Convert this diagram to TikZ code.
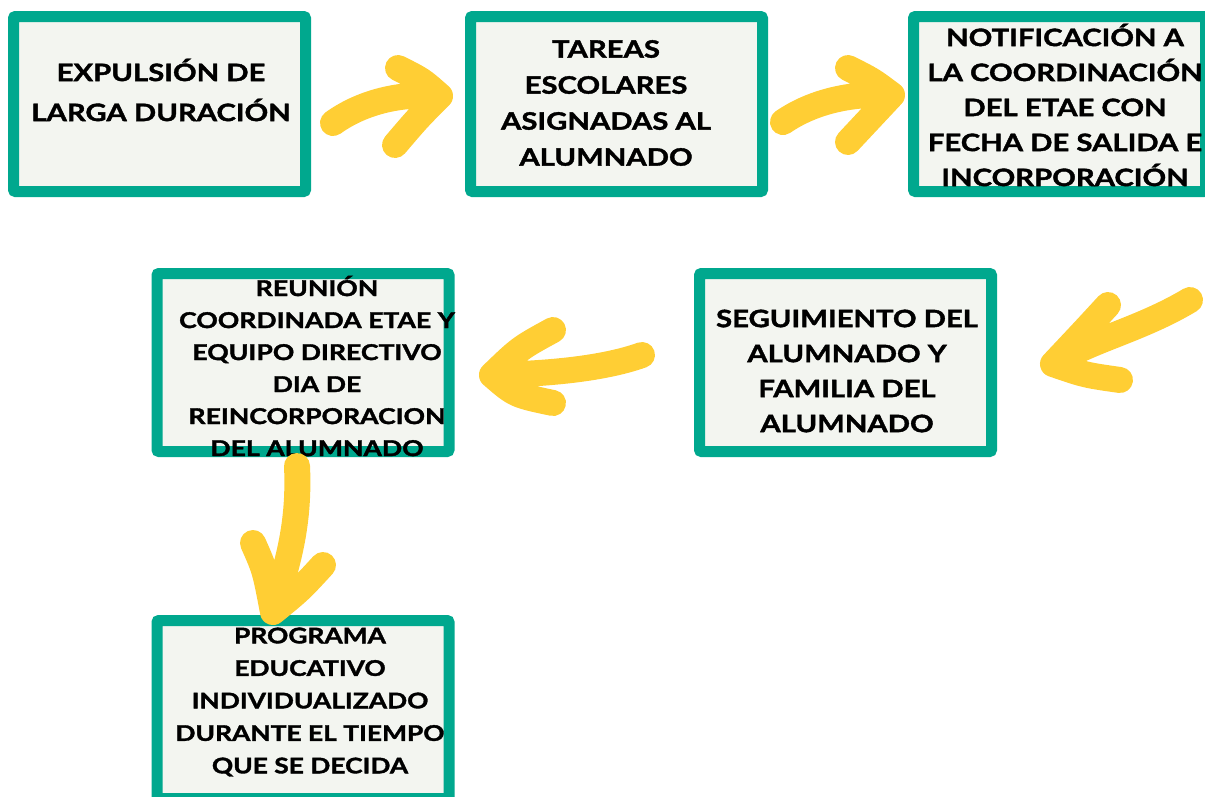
\documentclass[tikz,border=0pt]{standalone}
\usepackage{fontspec}
\setmainfont{Lato}[BoldFeatures={FakeStretch=1.22, FakeBold=1.6}]
\definecolor{verde}{RGB}{0,168,142}
\definecolor{fondo}{RGB}{243,245,240}
\definecolor{amarillo}{RGB}{255,206,52}
\begin{document}
\begin{tikzpicture}[x=1pt, y=-1pt,
  caja/.style={draw=verde, fill=fondo, line width=11pt, rounded corners=2pt,
    minimum width=292pt, minimum height=#1, inner sep=0pt},
  caja/.default=175pt,
  txt/.style 2 args={align=center, inner sep=0pt, font=\fontsize{#1}{#2}\selectfont\bfseries},
  flecha/.style={draw=amarillo, line width=26pt, line cap=round, line join=round}]

 \useasboundingbox (0,0) rectangle (1205,796);

 %draw boxes
    \foreach \x/\y/\h/\name in { 159.5/104/175pt/expulsion, 616.5/104/175pt/tareas, 1059.5/104/175pt/notificacion,
                                 303/362.5/178pt/reunion, 845.5/362.5/178pt/seguimiento, 303/709.5/178pt/programa }{
         \node[caja=\h] (\name) at (\x,\y) {};
    }

 %texts
 \node[txt={24}{40}] (expulsion-t) at (161,90) {EXPULSIÓN DE\\LARGA DURACIÓN};
 \node[txt={24}{36}] (tareas-t) at (606,103) {TAREAS\\ESCOLARES\\ASIGNADAS AL\\ALUMNADO};
 \node[txt={24}{35}] (notificacion-t) at (1065,105) {NOTIFICACIÓN A\\LA COORDINACIÓN\\DEL ETAE CON\\FECHA DE SALIDA E\\INCORPORACIÓN};
 \node[txt={21.8}{32}] (reunion-t) at (317,366) {REUNIÓN\\COORDINADA ETAE Y\\EQUIPO DIRECTIVO\\DIA DE\\REINCORPORACION\\DEL ALUMNADO};
 \node[txt={24}{35}] (seguimiento-t) at (847,371) {SEGUIMIENTO DEL\\ALUMNADO Y\\FAMILIA DEL\\ALUMNADO};
 \node[txt={21.6}{32.5}] (programa-t) at (310,702) {PROGRAMA\\EDUCATIVO\\INDIVIDUALIZADO\\DURANTE EL TIEMPO\\QUE SE DECIDA};

 %arrows
 \coordinate (a1s) at (333,123);  \coordinate (a1t) at (440,96);
 \coordinate (a1a) at (398,68);   \coordinate (a1b) at (395,145);
 \draw[flecha] (a1s) .. controls (365,100) and (405,93) .. (a1t)
               (a1a) .. controls (422,80) .. (a1t) .. controls (418,118) .. (a1b);

 \coordinate (a2s) at (783,122);  \coordinate (a2t) at (892,95);
 \coordinate (a2a) at (848,68);   \coordinate (a2b) at (848,142);
 \draw[flecha] (a2s) .. controls (815,100) and (855,93) .. (a2t)
               (a2a) .. controls (872,80) .. (a2t) .. controls (870,118) .. (a2b);

 \coordinate (a3s) at (1190,300); \coordinate (a3t) at (1053,364);
 \coordinate (a3a) at (1108,305); \coordinate (a3b) at (1120,380);
 \draw[flecha] (a3s) .. controls (1140,330) and (1090,340) .. (a3t)
               (a3a) .. controls (1085,330) .. (a3t) .. controls (1085,375) .. (a3b);

 \coordinate (a4s) at (642,355);  \coordinate (a4t) at (492,375);
 \coordinate (a4a) at (553,330);  \coordinate (a4b) at (553,403);
 \draw[flecha] (a4s) .. controls (600,370) and (540,374) .. (a4t)
               (a4a) .. controls (520,348) .. (a4t) .. controls (515,395) .. (a4b);

 \coordinate (a5s) at (297,466);  \coordinate (a5t) at (273,612);
 \coordinate (a5a) at (253,543);  \coordinate (a5b) at (323,565);
 \draw[flecha] (a5s) .. controls (300,530) and (285,570) .. (a5t)
               (a5a) .. controls (265,570) .. (a5t) .. controls (300,590) .. (a5b);

\end{tikzpicture}
\end{document}
